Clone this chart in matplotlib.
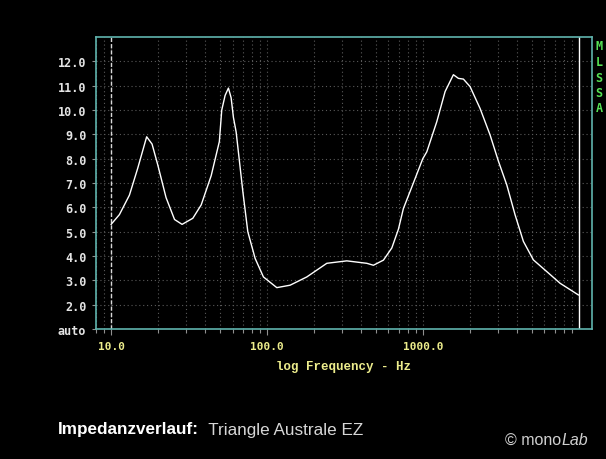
import numpy as np
import matplotlib.pyplot as plt
from matplotlib.ticker import FixedLocator, LogLocator, NullFormatter

# impedance curve (Hz, Ohm)
freq = [10.0, 11.3, 13.1, 14.8, 16.9, 18.3, 19.9, 22.5, 25.5, 28.5,
        33.4, 37.8, 43.8, 49.4, 51.2, 53.8, 56.5, 58.8, 60.8, 63.3,
        69.9, 75.2, 83.8, 94.7, 115.4, 140.4, 179.7, 241.4, 324.3, 435.6,
        480.3, 556.8, 630.2, 694.7, 747.6, 866.4, 995.6, 1056, 1224, 1384,
        1564, 1684, 1813, 2001, 2320, 2689, 3039, 3440, 3888, 4395,
        5093, 6206, 7553, 9897]
imp = [5.3, 5.7, 6.5, 7.6, 8.9, 8.6, 7.75, 6.4, 5.5, 5.3,
       5.55, 6.1, 7.3, 8.7, 10.0, 10.6, 10.9, 10.5, 9.7, 9.1,
       6.65, 5.0, 3.9, 3.14, 2.7, 2.8, 3.14, 3.7, 3.8, 3.7,
       3.62, 3.83, 4.33, 5.1, 5.95, 7.0, 8.0, 8.28, 9.52, 10.76,
       11.45, 11.3, 11.27, 10.96, 10.06, 8.97, 7.9, 6.92, 5.69, 4.6,
       3.84, 3.36, 2.88, 2.4]

x_ticks = [10, 100, 1000]
x_labels = ["10.0", "100.0", "1000.0"]
y_ticks = [1, 2, 3, 4, 5, 6, 7, 8, 9, 10, 11, 12]
y_labels = ["auto"] + ["%.1f" % v for v in y_ticks[1:]]

teal = "#5fb3ad"
yellow = "#ecec8c"
mono = ["DejaVu Sans Mono"]

fig = plt.figure(figsize=(6.06, 4.6), dpi=100, facecolor="black")
ax = fig.add_axes([96 / 606, 1 - 330 / 460, 496 / 606, 292 / 460])
ax.set_facecolor("black")

ax.set_xscale("log")
ax.set_xlim(8.0, 12100)
ax.set_ylim(1.0, 13.0)

# grid
ax.xaxis.set_minor_locator(LogLocator(base=10, subs=np.arange(2, 10)))
ax.xaxis.set_minor_formatter(NullFormatter())
ax.grid(which="both", axis="x", color="#5a5a5a", lw=0.8, ls=(0, (1, 2.5)))
ax.grid(which="major", axis="y", color="#5a5a5a", lw=0.8, ls=(0, (1, 2.5)))
ax.set_axisbelow(True)

# marker lines
ax.axvline(10, color="#d8d8d8", lw=1.0, ls=(0, (3, 1.5)))
ax.axvline(10000, color="white", lw=1.0)

ax.plot(freq, imp, color="white", lw=1.0)

ax.xaxis.set_major_locator(FixedLocator(x_ticks))
ax.set_xticklabels(x_labels)
ax.set_yticks(y_ticks)
ax.set_yticklabels(y_labels)

for lab in ax.get_xticklabels():
    lab.set_family(mono)
    lab.set_weight("bold")
    lab.set_color(yellow)
    lab.set_fontsize(8)
for lab in ax.get_yticklabels():
    lab.set_family(mono)
    lab.set_weight("bold")
    lab.set_color("#e4e4e4")
    lab.set_fontsize(8.5)

ax.tick_params(axis="x", which="major", length=4, width=0.8, color="#909090", pad=5)
ax.tick_params(axis="x", which="minor", length=3, width=0.8, color="#909090")
ax.tick_params(axis="y", length=3, width=0.8, color="#909090", pad=4)

for sp in ax.spines.values():
    sp.set_color(teal)
    sp.set_linewidth(1.2)

ax.set_xlabel("log Frequency - Hz", family=["Liberation Mono"], weight="bold",
              color=yellow, fontsize=9, labelpad=6)

# MLSSA letters on the right
for i, ch in enumerate("MLSSA"):
    fig.text(599 / 606, 1 - (47 + i * 15.5) / 460, ch, family=mono, weight="bold",
             color="#55e055", fontsize=8.5, ha="center", va="center")

t1 = fig.text(58 / 606, 1 - 430 / 460, "Impedanzverlauf:", family=["Liberation Sans"],
              weight="bold", color="white", fontsize=12.3, va="center", ha="left")
ax.annotate("  Triangle Australe EZ", xy=(1, 0.5), xycoords=t1, va="center", ha="left",
            family=["Liberation Sans"], color="#d6d6d6", fontsize=12.3,
            annotation_clip=False)

t2 = fig.text(505 / 606, 1 - 441 / 460, "\u00a9 mono", family=["Liberation Sans"],
              color="#d0d0d0", fontsize=11.5, va="center", ha="left")
ax.annotate("Lab", xy=(1, 0.5), xycoords=t2, va="center", ha="left",
            family=["Liberation Sans"], style="italic", color="#d0d0d0", fontsize=11.5,
            annotation_clip=False)

fig.savefig("out.png", dpi=100, facecolor="black")
